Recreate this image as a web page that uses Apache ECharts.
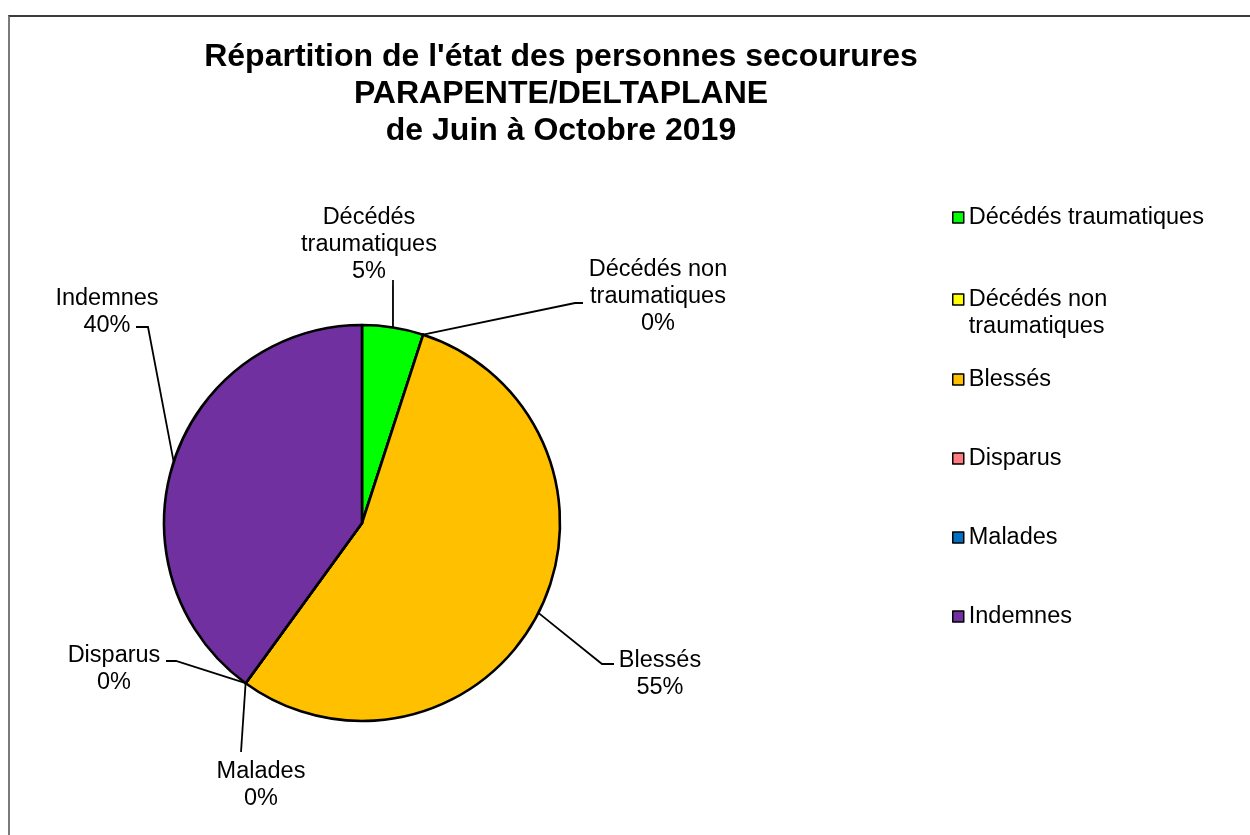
<!DOCTYPE html>
<html>
<head>
<meta charset="utf-8">
<style>
    html, body { margin: 0; padding: 0; background: #fff; }
    #main { width: 1250px; height: 835px; }
    #cadre { position: absolute; left: 8px; top: 15px; width: 1400px; height: 1000px;
             border-top: 2px solid #3a3a3a; border-left: 2px solid #7a7a7a; pointer-events: none; }
</style>
</head>
<body>
<div id="main"></div>
<div id="cadre"></div>
<script src="https://cdn.jsdelivr.net/npm/echarts@6/dist/echarts.min.js"></script>
<script type="text/javascript">
    // données du graphique
    var categories = ['Décédés traumatiques', 'Décédés non traumatiques', 'Blessés', 'Disparus', 'Malades', 'Indemnes'];
    var labelNames = ['Décédés\ntraumatiques', 'Décédés non\ntraumatiques', 'Blessés', 'Disparus', 'Malades', 'Indemnes'];
    var values = [1, 0, 11, 0, 0, 8];
    var colors = ['#00ff00', '#ffff00', '#ffc000', '#ff7c80', '#0070c0', '#7030a0'];

    // position des étiquettes (centre du bloc de texte)
    var labelPos = [[369, 245], [658, 297], [660, 674], [114, 669], [261, 785], [107, 312]];
    // fin du trait de rappel, relative au centre de l'étiquette : [dx fin, dy fin, dx coude, dy coude]
    var lineEnds = [[24, 35, 24, 35], [-75, 6, -83, 6], [-46, -10, -58, -10],
                    [52, -8, 62, -8], [-20, -33, -20, -33], [29, 15, 41, 15]];
    // haut de chaque légende
    var legendTop = [204, 259, 366, 445, 524, 603];

    var police = 'Liberation Sans, Arial, sans-serif';
    var myChart = echarts.init(document.getElementById('main'));

    var data = [];
    for (var i = 0; i < categories.length; i++) {
        data.push({name: categories[i], value: values[i], itemStyle: {color: colors[i]}});
    }

    var legends = categories.map(function (nom, i) {
        return {
            orient: 'vertical',
            left: 952,
            top: legendTop[i],
            padding: 0,
            icon: 'rect',
            itemWidth: 11,
            itemHeight: 11,
            itemStyle: {borderColor: '#000', borderWidth: 1.5},
            selectedMode: false,
            data: [nom],
            formatter: function (n) {
                // ligne vide en tête pour garder le carré sur la première ligne
                return n === 'Décédés non traumatiques' ? '\nDécédés non\ntraumatiques' : n;
            },
            textStyle: {fontFamily: police, fontSize: 23.5, lineHeight: 27, color: '#000'}
        };
    });

    var option = {
        animation: false,
        title: {
            text: "Répartition de l'état des personnes secourures\nPARAPENTE/DELTAPLANE\nde Juin à Octobre 2019",
            left: 561,
            top: 39,
            textAlign: 'center',
            padding: 0,
            textStyle: {fontFamily: police, fontSize: 32, fontWeight: 'bold', lineHeight: 37, color: '#000'}
        },
        legend: legends,
        series: [{
            name: 'Etat',
            type: 'pie',
            center: [362, 523],
            radius: 198,
            startAngle: 90,
            clockwise: true,
            avoidLabelOverlap: false,
            minShowLabelAngle: 0,
            itemStyle: {borderColor: '#000', borderWidth: 2.6},
            label: {
                show: true,
                position: 'outside',
                fontFamily: police,
                fontSize: 23.5,
                lineHeight: 27,
                color: '#000',
                formatter: function (p) {
                    return labelNames[p.dataIndex] + '\n' + Math.round(p.percent) + '%';
                }
            },
            labelLine: {
                show: true,
                length: 20,
                length2: 10,
                lineStyle: {color: '#000', width: 1.8}
            },
            labelLayout: function (p) {
                var pos = labelPos[p.dataIndex];
                var e = lineEnds[p.dataIndex];
                // le trait part du point calculé par ECharts sur le bord du secteur
                var ancre = p.labelLinePoints ? p.labelLinePoints[0] : pos;
                return {
                    x: pos[0], y: pos[1], align: 'center', verticalAlign: 'middle',
                    labelLinePoints: [
                        [ancre[0], ancre[1]],
                        [pos[0] + e[2], pos[1] + e[3]],
                        [pos[0] + e[0], pos[1] + e[1]]
                    ]
                };
            },
            emphasis: {disabled: true},
            data: data
        }]
    };
    myChart.setOption(option);
</script>
</body>
</html>
